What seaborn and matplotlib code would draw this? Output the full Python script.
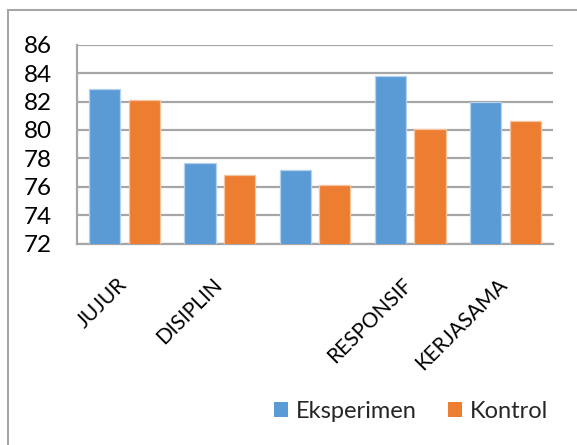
import matplotlib
matplotlib.use("Agg")
import matplotlib.pyplot as plt
import matplotlib.transforms as mtransforms
from matplotlib.patches import Rectangle
import seaborn as sns
import pandas as pd

# Character dimensions (the third one is unlabelled on the axis)
categories = ["JUJUR", "DISIPLIN", "", "RESPONSIF", "KERJASAMA"]
eksperimen = [82.9, 77.7, 77.2, 83.8, 82.0]
kontrol = [82.1, 76.8, 76.1, 80.1, 80.6]
groups = ["Eksperimen", "Kontrol"]
y_ticks = [72, 74, 76, 78, 80, 82, 84, 86]

df = pd.DataFrame({
    "kategori": categories * 2,
    "nilai": eksperimen + kontrol,
    "kelompok": [groups[0]] * len(categories) + [groups[1]] * len(categories),
})

sns.set_theme(style="white")
plt.rcParams["font.family"] = ["Lato", "DejaVu Sans"]

fig = plt.figure(figsize=(5.77, 4.45), dpi=100)
ax = fig.add_axes([0.1334, 0.4524, 0.825, 0.4472])

palette = {"Eksperimen": "#5B9BD5", "Kontrol": "#ED7D31"}
sns.barplot(data=df, x="kategori", y="nilai", hue="kelompok", order=categories,
            hue_order=groups, palette=palette, width=0.83, gap=0.21,
            saturation=1, ax=ax, legend=False, zorder=3)

for bar in ax.patches:
    fc = bar.get_facecolor()
    light = tuple(c + (1 - c) * 0.55 for c in fc[:3])
    bar.set_edgecolor(light)
    bar.set_linewidth(0.9)

grid_color = "#A6A6A6"
ax.set_ylim(72, 86)
ax.set_yticks(y_ticks)
ax.yaxis.grid(True, color=grid_color, linewidth=1.6, zorder=0)
ax.set_axisbelow(True)
for side in ["top", "right"]:
    ax.spines[side].set_visible(False)
for side in ["left", "bottom"]:
    ax.spines[side].set_color(grid_color)
    ax.spines[side].set_linewidth(1.6)
ax.set_xlim(-0.5, len(categories) - 0.5)

ax.tick_params(axis="y", length=0, pad=18, labelsize=17.5, labelcolor="black")
ax.tick_params(axis="x", length=0, pad=22, labelsize=15, labelcolor="black")
ax.set_xlabel("")
ax.set_ylabel("")

shift = mtransforms.ScaledTranslation(6 / 100, 0, fig.dpi_scale_trans)
for lab in ax.get_xticklabels():
    lab.set_rotation(45)
    lab.set_ha("right")
    lab.set_va("top")
    lab.set_transform(lab.get_transform() + shift)

handles = [Rectangle((0, 0), 1, 1, facecolor=palette[g], edgecolor="none") for g in groups]
fig.legend(handles, groups, loc="center", bbox_to_anchor=(411 / 577, 1 - 411 / 445),
           ncol=2, frameon=False, fontsize=17, handlelength=0.6, handleheight=0.6,
           handletextpad=0.35, columnspacing=1.3)

# Outer chart border
fig.patches.append(Rectangle((8 / 577, -0.1), 1.2, 1 - 10 / 445 + 0.1,
                             transform=fig.transFigure, fill=False,
                             edgecolor="#A6A6A6", linewidth=1.5))

fig.savefig("out.png", dpi=100)
